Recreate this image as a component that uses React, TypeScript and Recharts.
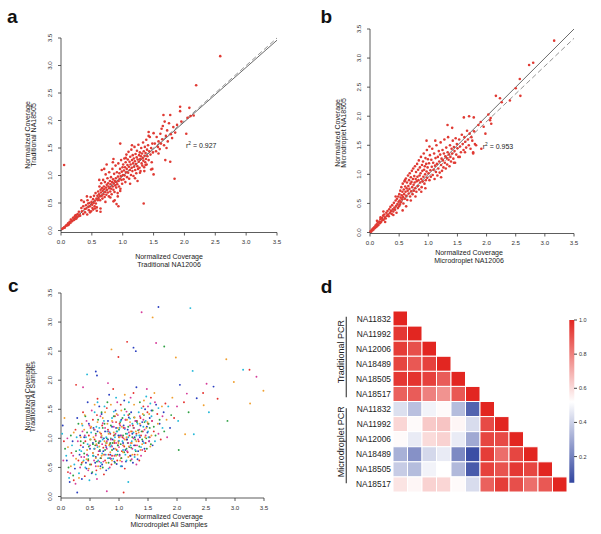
import { ScatterChart, Scatter, XAxis, YAxis, ReferenceLine, BarChart, Bar } from "recharts"

const FONT = '"Liberation Sans", Arial, Helvetica, sans-serif'

const axisTicks = [0, 0.5, 1, 1.5, 2, 2.5, 3, 3.5]

// panel a: Traditional NA12006 (x) vs Traditional NA18505 (y)
const tradPairs: number[][] = [
  [0.02,0.03],[0.035,0.04],[0.05,0.06],[0.06,0.05],[0.075,0.08],[0.09,0.10],[0.10,0.09],[0.115,0.13],[0.13,0.12],[0.14,0.16],
  [0.155,0.14],[0.17,0.19],[0.18,0.17],[0.195,0.23],[0.21,0.19],[0.22,0.25],[0.235,0.21],[0.245,0.28],[0.26,0.24],[0.27,0.30],
  [0.285,0.26],[0.29,0.34],[0.30,0.28],[0.12,0.10],[0.16,0.20],[0.23,0.27],[0.25,0.22],
  [0.31,0.27],[0.33,0.41],[0.34,0.35],[0.36,0.30],[0.37,0.52],[0.385,0.39],[0.39,0.33],[0.405,0.46],[0.41,0.40],[0.425,0.29],
  [0.43,0.55],[0.445,0.43],[0.45,0.37],[0.462,0.50],[0.47,0.44],[0.48,0.61],[0.487,0.35],[0.495,0.52],[0.505,0.47],[0.51,0.41],
  [0.52,0.57],[0.53,0.50],[0.535,0.63],[0.545,0.44],[0.55,0.54],[0.56,0.68],[0.565,0.49],[0.575,0.58],[0.58,0.42],[0.59,0.63],
  [0.595,0.55],[0.33,0.55],[0.42,0.62],[0.47,0.33],[0.55,0.40],[0.58,0.36],[0.36,0.44],[0.44,0.49],[0.52,0.38],
  [0.602,0.71],[0.608,0.58],[0.615,0.66],[0.623,0.80],[0.628,0.62],[0.634,0.55],[0.641,0.74],[0.647,0.69],[0.652,0.86],[0.66,0.63],
  [0.664,0.77],[0.671,0.58],[0.676,0.72],[0.683,0.92],[0.689,0.66],[0.694,0.80],[0.70,0.75],[0.707,0.61],[0.712,0.88],[0.718,0.70],
  [0.724,1.02],[0.729,0.78],[0.735,0.65],[0.742,0.83],[0.748,0.74],[0.753,0.95],[0.759,0.69],[0.764,0.86],[0.77,0.80],[0.776,0.62],
  [0.781,1.06],[0.787,0.77],[0.792,0.90],[0.798,0.71],[0.804,0.84],[0.81,0.97],[0.815,0.76],[0.821,0.66],[0.827,0.88],[0.833,1.12],
  [0.838,0.80],[0.844,0.93],[0.85,0.74],[0.855,0.86],[0.861,1.03],[0.867,0.70],[0.872,0.90],[0.878,0.82],[0.884,1.18],[0.889,0.95],
  [0.895,0.78],[0.90,0.88],[0.906,1.06],[0.912,0.84],[0.918,0.68],[0.923,0.98],[0.929,1.22],[0.934,0.90],[0.94,0.80],[0.946,1.04],
  [0.951,0.94],[0.957,1.12],[0.963,0.76],[0.968,0.99],[0.974,1.28],[0.98,0.92],[0.985,1.07],[0.991,0.85],[0.997,1.15],
  [0.64,0.40],[0.66,1.10],[0.74,1.20],[0.84,1.24],[0.87,0.55],[0.90,0.48],[0.93,0.44],[0.85,0.53],[0.64,0.34],[0.72,0.52],
  [0.80,0.60],[0.62,0.92],[0.85,1.30],[0.96,0.72],[0.92,0.62],[0.70,1.12],
  [1.003,1.01],[1.008,1.20],[1.014,0.93],[1.02,1.09],[1.026,1.31],[1.031,1.00],[1.037,1.15],[1.043,0.88],[1.048,1.24],[1.054,1.06],
  [1.06,1.38],[1.065,1.12],[1.071,0.97],[1.077,1.19],[1.082,1.29],[1.088,1.05],[1.094,1.43],[1.10,1.16],[1.105,0.94],[1.111,1.25],
  [1.117,1.10],[1.122,1.34],[1.128,1.20],[1.134,1.01],[1.14,1.47],[1.145,1.14],[1.151,1.28],[1.157,1.08],[1.162,1.37],[1.168,1.22],
  [1.174,0.99],[1.18,1.31],[1.185,1.16],[1.191,1.52],[1.197,1.26],[1.203,1.10],[1.208,1.39],[1.214,1.21],[1.22,1.04],[1.226,1.33],
  [1.231,1.45],[1.237,1.17],[1.243,1.29],[1.249,1.12],[1.254,1.56],[1.26,1.25],[1.266,1.37],[1.272,1.14],[1.277,1.42],[1.283,1.30],
  [1.289,1.08],[1.295,1.35],[1.30,1.50],[1.306,1.22],[1.312,1.40],[1.318,1.18],[1.324,1.32],[1.33,1.60],[1.335,1.27],[1.341,1.44],
  [1.347,1.15],[1.353,1.36],[1.359,1.52],[1.365,1.24],[1.37,1.41],[1.376,1.30],[1.382,1.65],[1.388,1.20],[1.394,1.47],[1.40,1.35],
  [1.41,1.55],[1.42,1.28],[1.43,1.44],[1.44,1.70],[1.45,1.38],[1.46,1.50],[1.47,1.24],[1.48,1.58],[1.49,1.42],
  [1.12,0.85],[1.20,0.95],[1.28,1.05],[1.35,1.08],[1.15,1.55],[1.05,1.32],[1.42,1.72],[1.48,1.12],[1.24,0.90],[1.50,1.77],
  [1.42,1.79],[1.37,1.19],[1.46,1.11],[1.50,1.02],
  [1.52,1.58],[1.54,1.44],[1.55,1.70],[1.57,1.52],[1.58,1.62],[1.60,1.48],[1.61,1.76],[1.62,1.58],[1.64,1.66],[1.65,1.90],
  [1.66,2.10],[1.67,1.55],[1.69,1.28],[1.70,1.72],[1.72,1.82],[1.73,1.62],[1.75,1.95],[1.77,1.25],[1.77,2.10],[1.78,1.75],
  [1.80,1.68],[1.82,1.88],[1.84,0.94],[1.85,1.78],[1.88,1.92],[1.93,2.25],[1.93,2.17],[1.95,1.98],[2.03,1.76],[2.05,2.05],
  [2.08,2.23],[2.10,2.08],[2.15,2.09],[2.19,2.64],[2.58,3.17],[0.05,1.19],[0.96,1.58],[1.34,0.49],[1.58,1.40],[1.63,1.85],
  [1.71,1.50],[1.68,1.98],
]

// panel b: Microdroplet NA12006 (x) vs Microdroplet NA18505 (y)
const microPairs: number[][] = [
  [0.01,0.02],[0.02,0.015],[0.03,0.045],[0.04,0.035],[0.05,0.07],[0.06,0.05],[0.072,0.09],[0.08,0.075],[0.095,0.12],[0.10,0.09],
  [0.115,0.14],[0.125,0.11],[0.135,0.17],[0.145,0.13],[0.16,0.19],[0.17,0.16],[0.18,0.23],[0.19,0.18],[0.205,0.25],[0.215,0.21],
  [0.225,0.29],[0.235,0.22],[0.245,0.31],[0.255,0.26],[0.27,0.24],[0.28,0.34],[0.29,0.29],[0.30,0.37],[0.31,0.31],[0.322,0.28],
  [0.33,0.40],[0.342,0.34],[0.35,0.44],[0.36,0.37],[0.372,0.32],[0.38,0.47],[0.39,0.40],[0.40,0.36],[0.41,0.51],[0.42,0.43],
  [0.43,0.39],[0.44,0.55],[0.448,0.46],[0.455,0.34],[0.463,0.58],[0.47,0.49],[0.478,0.42],[0.485,0.62],[0.49,0.53],[0.497,0.45],
  [0.18,0.26],[0.23,0.36],[0.26,0.18],[0.12,0.20],[0.40,0.30],[0.44,0.62],
  [0.503,0.66],[0.509,0.55],[0.515,0.48],[0.52,0.72],[0.526,0.60],[0.532,0.52],[0.538,0.78],[0.544,0.64],[0.55,0.57],[0.556,0.70],
  [0.562,0.84],[0.568,0.61],[0.574,0.50],[0.58,0.74],[0.586,0.66],[0.592,0.88],[0.598,0.58],[0.604,0.79],[0.61,0.70],[0.616,0.93],
  [0.622,0.63],[0.628,0.76],[0.634,0.86],[0.64,0.56],[0.646,0.72],[0.652,0.98],[0.658,0.80],[0.664,0.67],[0.67,0.90],[0.676,0.75],
  [0.682,1.02],[0.688,0.62],[0.694,0.84],[0.70,0.95],[0.706,0.71],[0.712,0.87],[0.718,1.06],[0.724,0.78],[0.73,0.66],[0.736,0.92],
  [0.742,1.10],[0.748,0.82],[0.754,0.72],[0.76,0.97],[0.766,0.86],[0.772,1.14],[0.778,0.76],[0.784,0.92],[0.79,1.04],[0.796,0.70],
  [0.802,0.88],[0.808,1.18],[0.814,0.96],[0.82,0.80],[0.826,1.08],[0.832,0.90],[0.838,1.24],[0.844,0.74],[0.85,0.98],[0.856,1.12],
  [0.862,0.86],[0.868,1.02],[0.874,1.30],[0.88,0.92],[0.886,0.78],[0.892,1.16],[0.898,1.06],[0.904,0.88],[0.91,1.22],[0.916,0.96],
  [0.922,1.36],[0.928,1.08],[0.934,0.84],[0.94,1.14],[0.946,1.00],[0.952,1.28],[0.958,0.90],[0.964,1.18],[0.97,1.05],[0.976,1.42],
  [0.982,0.94],[0.988,1.12],[0.994,1.26],
  [0.56,0.38],[0.62,0.45],[0.70,0.55],[0.78,0.62],[0.88,0.70],[0.95,0.76],[0.97,1.58],[0.60,0.90],
  [1.004,1.02],[1.012,1.19],[1.02,0.90],[1.028,1.33],[1.036,1.07],[1.044,0.96],[1.052,1.25],[1.06,1.13],[1.068,1.44],[1.076,0.99],
  [1.084,1.20],[1.092,1.08],[1.10,1.36],[1.108,0.92],[1.116,1.15],[1.124,1.28],[1.132,1.04],[1.14,1.50],[1.148,1.18],[1.156,0.98],
  [1.164,1.30],[1.172,1.10],[1.18,1.40],[1.188,1.22],[1.196,1.03],[1.204,1.34],[1.212,1.55],[1.22,1.16],[1.228,1.27],[1.236,1.06],
  [1.244,1.42],[1.252,1.24],[1.26,1.12],[1.268,1.36],[1.276,1.60],[1.284,1.20],[1.292,1.31],[1.30,1.10],[1.308,1.46],[1.316,1.28],
  [1.324,1.17],[1.332,1.38],[1.34,1.64],[1.348,1.25],[1.356,1.34],[1.364,1.14],[1.372,1.50],[1.38,1.30],[1.39,1.22],[1.40,1.44],
  [1.41,1.36],[1.42,1.58],[1.43,1.27],[1.44,1.47],[1.45,1.40],[1.46,1.20],[1.47,1.62],[1.48,1.34],[1.49,1.52],[1.50,1.45],
  [1.515,1.30],[1.53,1.60],[1.545,1.48],[1.56,1.38],[1.575,1.68],[1.59,1.52],[1.605,1.42],[1.62,1.64],[1.635,1.56],[1.65,1.46],
  [1.665,1.75],[1.68,1.60],[1.695,1.50],[1.71,1.70],[1.725,1.44],[1.74,1.64],[1.755,1.58],[1.77,1.38],[1.785,1.74],[1.80,1.52],
  [1.02,1.48],[1.12,1.58],[1.22,0.95],[1.33,1.85],[1.41,1.80],[1.44,1.20],[1.54,1.30],[1.63,1.38],[1.82,1.50],[1.77,1.36],
  [1.91,1.44],
  [1.61,1.98],[1.70,2.00],[1.78,1.98],[1.86,1.85],[1.98,1.70],[2.03,2.03],[2.06,1.93],[2.07,1.97],[2.16,2.35],[2.23,2.31],
  [2.26,2.24],[2.40,2.27],[2.50,2.48],[2.57,2.64],[2.58,2.35],[2.73,2.88],[2.80,2.92],[3.16,3.30],[1.90,1.90],[1.95,1.82],
  [2.08,1.87],
]

// panel c: Microdroplet (x) vs Traditional (y), one series per sample
const allS1: number[][] = [
  [0.05,0.95],[0.12,0.42],[0.18,0.75],[0.22,0.28],[0.25,1.15],[0.30,0.62],[0.34,0.88],[0.38,1.45],[0.41,0.35],[0.45,0.72],
  [0.48,1.05],[0.52,0.55],[0.55,1.32],[0.58,0.82],[0.61,0.45],[0.63,1.68],[0.66,0.95],[0.69,0.66],[0.71,1.22],[0.74,0.38],
  [0.77,0.88],[0.79,1.52],[0.82,0.72],[0.85,1.08],[0.87,0.55],[0.90,1.85],[0.92,0.92],[0.95,1.28],[0.97,0.62],[1.00,1.02],
  [1.03,1.58],[1.05,0.78],[1.08,1.18],[1.10,0.48],[1.13,0.98],[1.16,1.40],[1.19,0.70],[1.22,1.12],[1.25,1.78],[1.28,0.88],
  [1.31,1.30],[1.35,0.62],[1.38,1.05],[1.42,1.55],[1.46,0.92],[1.50,1.25],[1.55,1.70],[1.60,1.12],[1.66,1.42],[1.72,0.98],
  [1.80,1.60],[1.95,1.35],[2.12,1.62],[2.45,1.78],[2.70,1.68],[1.14,2.66],[0.99,2.40],[3.25,2.18],[1.08,0.07],[0.26,1.92],
  [0.58,0.98],[0.64,0.72],[0.69,1.08],[0.73,0.84],[0.76,0.62],[0.81,1.15],[0.84,0.90],[0.88,0.70],[0.91,1.05],[0.93,1.38],
  [0.96,0.80],[0.99,0.95],[1.01,1.25],[1.04,0.66],[1.06,1.02],[1.09,0.86],[1.12,1.32],[1.15,0.76],[1.18,1.05],[1.21,0.92],
  [1.24,1.22],[1.27,0.72],[1.30,1.08],[1.34,0.95],[1.37,1.35],[1.41,1.12],[1.45,0.78],[1.49,1.45],[1.53,1.02],[1.57,1.30],
  [0.42,0.95],[0.47,0.62],[0.51,1.18],[0.36,0.58],[0.62,1.40],
]
const allS2: number[][] = [
  [0.03,1.22],[0.10,0.62],[0.15,0.25],[0.20,0.95],[0.24,0.48],[0.28,1.35],[0.32,0.72],[0.36,0.30],[0.40,1.02],[0.43,0.58],
  [0.46,1.62],[0.50,0.82],[0.53,0.40],[0.56,1.18],[0.60,0.68],[0.62,2.08],[0.65,0.92],[0.68,0.52],[0.70,1.42],[0.73,0.78],
  [0.76,1.12],[0.78,0.45],[0.81,0.98],[0.83,1.75],[0.86,0.65],[0.88,1.20],[0.91,0.82],[0.94,1.48],[0.96,0.56],[0.99,1.05],
  [1.01,0.72],[1.04,1.32],[1.07,0.92],[1.09,1.65],[1.12,0.60],[1.15,1.15],[1.18,0.85],[1.21,1.45],[1.24,0.58],[1.27,1.02],
  [1.30,1.88],[1.33,0.78],[1.37,1.22],[1.41,0.95],[1.45,1.50],[1.49,1.10],[1.53,1.35],[1.58,0.88],[1.64,1.58],[1.70,1.25],
  [1.77,1.45],[1.88,1.18],[2.05,1.92],[2.34,1.69],[2.63,1.89],[1.68,3.26],[1.25,2.56],[1.29,2.50],[0.28,0.07],[0.60,2.15],
  [0.55,0.92],[0.59,0.58],[0.63,1.12],[0.67,0.78],[0.71,0.55],[0.74,1.00],[0.78,0.85],[0.81,1.30],[0.85,0.72],[0.89,0.98],
  [0.92,0.60],[0.95,1.18],[0.98,0.88],[1.02,1.05],[1.05,0.52],[1.08,1.22],[1.11,0.80],[1.14,0.98],[1.17,1.36],[1.20,0.70],
  [1.23,1.08],[1.26,0.88],[1.29,1.30],[1.32,0.64],[1.36,1.02],[1.40,1.28],[1.44,0.82],[1.48,1.20],[1.52,0.95],[1.56,1.48],
  [0.38,0.85],[0.44,0.48],[0.48,1.25],[0.33,1.05],[0.66,1.55],
]
const allS3: number[][] = [
  [0.07,0.82],[0.13,0.50],[0.17,1.05],[0.21,0.36],[0.26,0.78],[0.30,1.25],[0.35,0.55],[0.39,0.92],[0.42,1.38],[0.47,0.64],
  [0.51,0.98],[0.54,0.42],[0.57,1.15],[0.59,0.88],[0.62,0.60],[0.64,1.32],[0.67,0.80],[0.70,1.02],[0.72,0.50],[0.75,1.25],
  [0.78,0.92],[0.80,1.62],[0.83,0.66],[0.86,1.00],[0.88,0.80],[0.91,1.38],[0.93,0.58],[0.96,1.12],[0.98,0.88],[1.02,1.28],
  [1.04,0.66],[1.07,1.05],[1.10,1.50],[1.13,0.82],[1.16,1.20],[1.20,0.62],[1.23,1.02],[1.26,1.36],[1.29,0.78],[1.33,1.14],
  [1.36,1.62],[1.40,0.98],[1.44,1.28],[1.48,0.82],[1.53,1.18],[1.58,1.48],[1.63,1.05],[1.70,1.32],[1.78,1.12],[1.90,1.40],
  [2.03,0.80],[2.20,1.45],[2.87,1.30],[1.78,2.58],[0.55,0.90],[0.60,0.95],[0.48,0.86],[0.92,0.96],[0.85,0.92],
  [0.56,0.70],[0.60,1.08],[0.65,0.92],[0.68,0.66],[0.72,1.18],[0.76,0.80],[0.79,1.00],[0.82,0.58],[0.86,1.22],[0.89,0.92],
  [0.93,1.06],[0.97,0.72],[1.00,1.15],[1.03,0.90],[1.06,1.35],[1.09,0.76],[1.12,1.08],[1.15,0.92],[1.18,1.42],[1.21,0.84],
  [1.25,1.18],[1.28,0.98],[1.31,1.28],[1.35,0.86],[1.39,1.12],[1.43,1.40],[1.47,1.00],[1.51,1.25],[1.55,0.90],[1.60,1.20],
  [0.40,0.74],[0.45,1.10],[0.50,0.55],[0.34,0.95],[0.70,1.45],
]
const allS4: number[][] = [
  [0.02,1.08],[0.09,0.70],[0.14,0.32],[0.19,0.88],[0.23,0.55],[0.27,1.02],[0.31,0.40],[0.35,0.78],[0.37,1.22],[0.42,0.50],
  [0.46,0.90],[0.49,0.28],[0.52,1.10],[0.55,0.70],[0.58,1.45],[0.60,0.38],[0.63,0.85],[0.66,1.18],[0.69,0.58],[0.72,0.98],
  [0.75,1.55],[0.77,0.72],[0.80,1.12],[0.82,0.48],[0.85,0.86],[0.88,1.35],[0.90,0.65],[0.93,1.02],[0.95,1.70],[0.98,0.78],
  [1.01,1.18],[1.03,0.52],[1.06,0.95],[1.09,1.40],[1.11,0.72],[1.14,1.08],[1.17,1.62],[1.20,0.88],[1.23,1.25],[1.27,0.68],
  [1.30,1.05],[1.34,1.45],[1.38,0.85],[1.42,1.20],[1.47,1.72],[1.51,1.02],[1.56,1.38],[1.62,0.95],[1.68,1.52],[1.75,1.18],
  [1.85,1.55],[2.02,1.30],[2.23,3.24],[2.27,2.16],[2.55,1.45],[3.14,2.18],[2.29,1.07],[1.16,0.25],[0.45,2.10],
  [0.57,0.82],[0.61,1.20],[0.64,0.62],[0.68,0.95],[0.71,0.74],[0.74,1.30],[0.78,1.02],[0.81,0.66],[0.84,1.10],[0.87,0.88],
  [0.91,1.46],[0.94,0.72],[0.97,1.12],[1.00,0.96],[1.03,1.30],[1.07,0.80],[1.10,1.16],[1.13,0.62],[1.16,1.02],[1.19,1.34],
  [1.22,0.95],[1.25,1.10],[1.28,0.80],[1.32,1.25],[1.35,1.05],[1.39,1.52],[1.43,0.92],[1.46,1.30],[1.50,1.12],[1.54,1.60],
  [0.39,0.62],[0.43,1.02],[0.47,0.70],[0.32,0.80],[0.63,1.62],
]
const allS5: number[][] = [
  [0.04,0.62],[0.11,1.00],[0.16,0.40],[0.21,0.70],[0.25,0.22],[0.29,0.95],[0.33,0.50],[0.37,1.12],[0.40,0.68],[0.44,1.30],
  [0.47,0.45],[0.50,0.88],[0.53,1.48],[0.57,0.62],[0.60,1.05],[0.62,0.30],[0.65,0.78],[0.68,1.38],[0.71,0.90],[0.73,0.60],
  [0.76,1.18],[0.79,0.82],[0.81,1.95],[0.84,0.50],[0.86,0.98],[0.89,1.28],[0.92,0.70],[0.94,1.08],[0.97,1.62],[1.00,0.85],
  [1.02,1.22],[1.05,0.60],[1.08,1.00],[1.11,1.32],[1.14,0.78],[1.17,1.10],[1.20,1.70],[1.23,0.82],[1.26,1.18],[1.30,0.55],
  [1.33,0.98],[1.36,1.38],[1.40,0.80],[1.44,1.15],[1.48,1.85],[1.52,0.95],[1.57,1.30],[1.62,1.62],[1.68,1.08],[1.75,1.38],
  [1.83,1.02],[2.00,1.55],[2.17,1.77],[2.51,1.94],[1.39,3.17],[1.64,2.64],[3.37,2.06],[0.79,0.09],[0.38,1.88],
  [0.55,0.75],[0.58,1.15],[0.62,0.88],[0.66,0.60],[0.69,1.02],[0.72,1.26],[0.75,0.72],[0.79,0.95],[0.82,1.12],[0.85,0.66],
  [0.88,0.86],[0.91,1.20],[0.95,0.92],[0.98,1.40],[1.01,0.70],[1.04,1.05],[1.07,0.88],[1.10,1.18],[1.13,1.46],[1.16,0.92],
  [1.19,1.22],[1.22,0.64],[1.25,1.00],[1.28,1.30],[1.31,0.88],[1.35,1.15],[1.38,0.70],[1.42,1.32],[1.46,1.05],[1.50,1.55],
  [0.41,1.05],[0.45,0.72],[0.49,1.22],[0.35,0.68],[0.60,0.52],
]
const allS6: number[][] = [
  [0.06,1.35],[0.12,0.85],[0.17,0.52],[0.22,1.10],[0.26,0.65],[0.31,0.32],[0.34,1.02],[0.38,0.60],[0.41,1.40],[0.45,0.80],
  [0.48,0.48],[0.52,1.20],[0.55,0.75],[0.58,1.58],[0.61,0.90],[0.64,0.52],[0.67,1.10],[0.70,0.70],[0.72,1.35],[0.75,0.95],
  [0.78,0.58],[0.80,1.25],[0.83,0.88],[0.86,1.58],[0.88,0.62],[0.91,1.10],[0.94,0.82],[0.96,1.42],[0.99,0.92],[1.02,0.62],
  [1.05,1.20],[1.08,0.88],[1.10,1.75],[1.13,1.02],[1.16,0.68],[1.19,1.28],[1.22,0.92],[1.26,1.58],[1.29,1.12],[1.32,0.72],
  [1.36,1.25],[1.40,0.90],[1.43,1.65],[1.47,1.18],[1.52,1.42],[1.56,1.05],[1.61,1.78],[1.67,1.25],[1.74,1.55],[1.82,1.32],
  [1.92,1.70],[2.14,1.07],[2.46,1.57],[2.98,1.97],[3.49,1.82],[1.58,3.08],[0.87,2.53],[1.98,2.39],[2.85,2.36],[3.26,1.60],
  [0.56,1.02],[0.60,0.66],[0.63,1.28],[0.66,0.86],[0.70,1.05],[0.73,0.72],[0.76,1.45],[0.79,0.92],[0.82,1.08],[0.85,0.76],
  [0.88,1.30],[0.92,0.96],[0.95,0.70],[0.98,1.18],[1.01,1.02],[1.04,1.48],[1.07,0.76],[1.10,0.98],[1.14,1.32],[1.17,0.86],
  [1.20,1.12],[1.23,0.72],[1.27,1.36],[1.30,0.95],[1.34,1.10],[1.37,0.80],[1.41,1.42],[1.45,1.02],[1.49,1.28],[1.54,0.86],
  [0.40,1.15],[0.44,0.64],[0.50,0.98],[0.36,1.25],[0.68,0.48],
]

// panel d: correlation matrix, lower triangle, rows/cols = trad x6 then micro x6
const sampleNames = ["NA11832", "NA11992", "NA12006", "NA18489", "NA18505", "NA18517"]
const rowLabels = [...sampleNames, ...sampleNames]
const corrRows: number[][] = [
  [1.0],
  [0.96, 1.0],
  [0.95, 0.91, 1.0],
  [0.93, 0.89, 0.94, 1.0],
  [0.96, 0.97, 0.94, 0.88, 1.0],
  [0.87, 0.88, 0.80, 0.76, 0.89, 1.0],
  [0.44, 0.36, 0.49, 0.53, 0.35, 0.12, 1.0],
  [0.61, 0.53, 0.64, 0.65, 0.54, 0.43, 0.92, 1.0],
  [0.53, 0.47, 0.60, 0.62, 0.47, 0.30, 0.93, 0.92, 1.0],
  [0.32, 0.24, 0.42, 0.47, 0.22, 0.07, 0.95, 0.84, 0.93, 1.0],
  [0.39, 0.35, 0.49, 0.52, 0.34, 0.10, 0.94, 0.90, 0.96, 0.93, 1.0],
  [0.58, 0.54, 0.62, 0.61, 0.53, 0.43, 0.87, 0.95, 0.91, 0.84, 0.89, 1.0],
]
const scaleTicks = [0.2, 0.4, 0.6, 0.8, 1.0]
const SCALE_LO = 0.047
const SCALE_HI = 1.0
const SCALE_MID = 0.52

const RED = [226, 38, 33]
const BLUE = [50, 70, 160]

function heatColor(v: number) {
  const hot = v >= SCALE_MID
  const t = hot ? (v - SCALE_MID) / (SCALE_HI - SCALE_MID) : (SCALE_MID - v) / (SCALE_MID - SCALE_LO)
  const c = hot ? RED : BLUE
  const mix = (a: number) => Math.round(255 + (a - 255) * Math.min(1, t))
  return `rgb(${mix(c[0])},${mix(c[1])},${mix(c[2])})`
}

const fmt = (v: number) => v.toFixed(1)
const toPts = (arr: number[][]) => arr.map(([x, y]) => ({ x, y }))

const RotTick = (props: any) => {
  const { x, y, payload } = props
  return (
    <text transform={`translate(${x},${y}) rotate(-90)`} textAnchor="middle" fontSize={6.2} fill="#333" fontFamily={FONT}>
      {fmt(payload.value)}
    </text>
  )
}

const dot = (r: number, fill: string) => (p: any) => <circle cx={p.cx} cy={p.cy} r={r} fill={fill} />

const AX_W = 30
const AX_H = 20

interface PanelProps {
  left: number
  top: number
  width: number
  height: number
  // plot-area edges, measured from the chart's own box
  plot: { top: number; right: number; bottom: number; left: number }
  padBottom: number
  series: { pts: number[][]; color: string }[]
  r: number
  lines?: { end: number; dashed: boolean }[]
}

function CoveragePanel({ left, top, width, height, plot, padBottom, series, r, lines = [] }: PanelProps) {
  const margin = { top: plot.top, right: plot.right, bottom: plot.bottom - AX_H, left: plot.left - AX_W }
  return (
    <div style={{ position: "absolute", left, top }}>
      <ScatterChart width={width} height={height} margin={margin}>
        <XAxis
          type="number"
          dataKey="x"
          domain={[0, 3.5]}
          ticks={axisTicks}
          interval={0}
          tickFormatter={fmt}
          height={AX_H}
          stroke="#333"
          strokeWidth={0.8}
          tickSize={3}
          tickMargin={4.5}
          tick={{ fontSize: 6.2, fill: "#333", fontFamily: FONT }}
        />
        <YAxis
          type="number"
          dataKey="y"
          domain={[0, 3.5]}
          ticks={axisTicks}
          interval={0}
          width={AX_W}
          padding={{ top: 0, bottom: padBottom }}
          stroke="#333"
          strokeWidth={0.8}
          tickSize={3}
          tickMargin={6}
          tick={RotTick}
        />
        {series.map((s, i) => (
          <Scatter key={i} data={toPts(s.pts)} shape={dot(r, s.color)} isAnimationActive={false} />
        ))}
        {lines.map((l, i) => (
          <ReferenceLine
            key={"l" + i}
            segment={[{ x: 0, y: 0 }, { x: 3.5, y: l.end }]}
            stroke={l.dashed ? "#777" : "#444"}
            strokeWidth={0.8}
            strokeDasharray={l.dashed ? "5 3" : undefined}
          />
        ))}
      </ScatterChart>
    </div>
  )
}

const CELL_W = 174 / 12
const CELL_H = 181 / 12
const cells = corrRows.flatMap((row, r) => row.map((v, c) => ({ col: c, row: r, v })))

const cellShape = (p: any) => (
  <rect
    x={p.cx - CELL_W / 2}
    y={p.cy - CELL_H / 2}
    width={CELL_W}
    height={CELL_H}
    fill={heatColor(p.payload.v)}
    stroke="#fff"
    strokeWidth={1}
  />
)

function HeatPanel() {
  return (
    <>
      <div style={{ position: "absolute", left: 300, top: 270 }}>
        <ScatterChart width={301} height={264} margin={{ top: 41, right: 34, bottom: 42, left: 23 }}>
          <XAxis type="number" dataKey="col" domain={[-0.5, 11.5]} hide />
          <YAxis
            type="number"
            dataKey="row"
            domain={[-0.5, 11.5]}
            reversed
            ticks={rowLabels.map((_, i) => i)}
            interval={0}
            tickFormatter={(i: number) => rowLabels[i]}
            width={70}
            axisLine={false}
            tickLine={false}
            tickSize={0}
            tickMargin={2}
            tick={{ fontSize: 8.4, fill: "#222", fontFamily: FONT }}
          />
          <Scatter data={cells} shape={cellShape} isAnimationActive={false} />
        </ScatterChart>
      </div>
      <div style={{ position: "absolute", left: 560, top: 300 }}>
        <BarChart
          width={40}
          height={200}
          data={[{ k: "scale", range: [SCALE_LO, SCALE_HI] }]}
          margin={{ top: 20, right: 6, bottom: 17.3, left: 9.3 }}
          barCategoryGap={0}
        >
          <XAxis dataKey="k" hide />
          <YAxis
            orientation="right"
            type="number"
            domain={[SCALE_LO, SCALE_HI]}
            ticks={scaleTicks}
            interval={0}
            tickFormatter={fmt}
            width={20}
            axisLine={false}
            stroke="#444"
            tickSize={3}
            tickMargin={2}
            tick={{ fontSize: 5.5, fill: "#333", fontFamily: FONT }}
          />
          <Bar dataKey="range" fill="url(#cbGrad)" isAnimationActive={false} />
        </BarChart>
      </div>
    </>
  )
}

const letterStyle = { fontSize: 19, fontWeight: 700, fill: "#111", fontFamily: FONT }
const titleStyle = { fontSize: 7, fill: "#222", fontFamily: FONT }

function VTitle({ x, y, text, size = 7 }: { x: number; y: number; text: string; size?: number }) {
  return (
    <text transform={`translate(${x},${y}) rotate(-90)`} textAnchor="middle" fontSize={size} fill="#222" fontFamily={FONT}>
      {text}
    </text>
  )
}

function RSquared({ x, y, value }: { x: number; y: number; value: string }) {
  return (
    <text x={x} y={y} style={titleStyle}>
      r<tspan fontSize={4.8} dy={-2.6}>2</tspan>
      <tspan dy={2.6}>{" = " + value}</tspan>
    </text>
  )
}

export default function App() {
  return (
    <div style={{ position: "absolute", left: 0, top: 0, width: 601, height: 534, background: "#fff", fontFamily: FONT }}>
      <CoveragePanel
        left={0}
        top={0}
        width={300}
        height={270}
        plot={{ top: 38, right: 23, bottom: 37.5, left: 61 }}
        padBottom={2}
        r={1.3}
        series={[{ pts: tradPairs, color: "#e03a33" }]}
        lines={[{ end: 3.5, dashed: true }, { end: 3.46, dashed: false }]}
      />
      <CoveragePanel
        left={300}
        top={0}
        width={301}
        height={270}
        plot={{ top: 29, right: 27, bottom: 36.5, left: 70 }}
        padBottom={1}
        r={1.3}
        series={[{ pts: microPairs, color: "#e03a33" }]}
        lines={[{ end: 3.34, dashed: true }, { end: 3.5, dashed: false }]}
      />
      <CoveragePanel
        left={0}
        top={270}
        width={300}
        height={264}
        plot={{ top: 23, right: 36, bottom: 36, left: 61 }}
        padBottom={1.5}
        r={0.95}
        series={[
          { pts: allS1, color: "#e6302c" },
          { pts: allS2, color: "#2a3fc0" },
          { pts: allS3, color: "#2ea043" },
          { pts: allS4, color: "#22b8d8" },
          { pts: allS5, color: "#d63c9a" },
          { pts: allS6, color: "#f0a030" },
        ]}
      />
      <HeatPanel />
      <svg width={601} height={534} style={{ position: "absolute", left: 0, top: 0, pointerEvents: "none" }}>
        <defs>
          <linearGradient id="cbGrad" x1="0" y1="0" x2="0" y2="1">
            <stop offset="0" stopColor={`rgb(${RED.join(",")})`} />
            <stop offset={(SCALE_HI - SCALE_MID) / (SCALE_HI - SCALE_LO)} stopColor="#fff" />
            <stop offset="1" stopColor={`rgb(${BLUE.join(",")})`} />
          </linearGradient>
        </defs>
        <text x={7} y={23} style={letterStyle}>a</text>
        <text x={320.5} y={23.3} style={letterStyle}>b</text>
        <text x={8} y={291.7} style={letterStyle}>c</text>
        <text x={320.7} y={292.7} style={letterStyle}>d</text>

        <text x={169} y={258.5} textAnchor="middle" style={titleStyle}>Normalized Coverage</text>
        <text x={169} y={267} textAnchor="middle" style={titleStyle}>Traditional NA12006</text>
        <text x={469} y={255} textAnchor="middle" style={titleStyle}>Normalized Coverage</text>
        <text x={469} y={263.3} textAnchor="middle" style={titleStyle}>Microdroplet NA12006</text>
        <text x={169} y={518.5} textAnchor="middle" style={titleStyle}>Normalized Coverage</text>
        <text x={169} y={527} textAnchor="middle" style={titleStyle}>Microdroplet All Samples</text>

        <VTitle x={29.5} y={135} text="Normalized Coverage" />
        <VTitle x={35.5} y={135} text="Traditional NA18505" />
        <VTitle x={340} y={133} text="Normalized Coverage" />
        <VTitle x={345.5} y={133} text="Microdroplet NA18505" />
        <VTitle x={29.8} y={396.7} text="Normalized Coverage" />
        <VTitle x={35.3} y={396.7} text="Traditional All Samples" />

        <RSquared x={186} y={148} value="0.927" />
        <RSquared x={482.7} y={148.5} value="0.953" />

        <VTitle x={343.5} y={351.7} text="Traditional PCR" size={9} />
        <VTitle x={343.5} y={441.7} text="Microdroplet PCR" size={9} />
        <line x1={346.3} y1={316.7} x2={346.3} y2={397.3} stroke="#555" strokeWidth={1.3} />
        <line x1={346.3} y1={408.3} x2={346.3} y2={483.3} stroke="#555" strokeWidth={1.3} />
      </svg>
    </div>
  )
}
